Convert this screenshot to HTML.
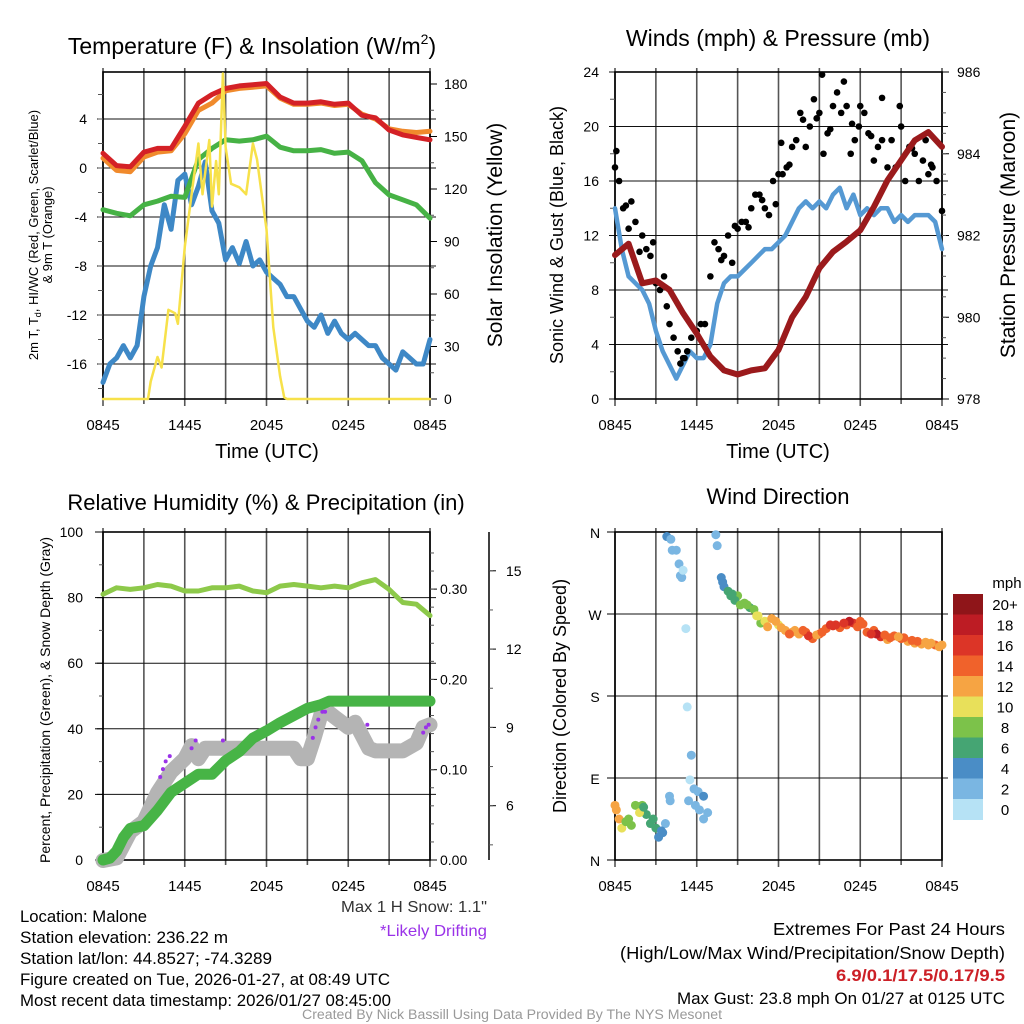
<!DOCTYPE html>
<html><head><meta charset="utf-8">
<style>
html,body{margin:0;padding:0;background:#fff;}
svg{display:block;font-family:"Liberation Sans",sans-serif;}
</style></head>
<body>
<svg id="fig" width="1024" height="1024" viewBox="0 0 1024 1024" xmlns="http://www.w3.org/2000/svg">
<rect x="0" y="0" width="1024" height="1024" fill="#fff"/>
<g id="layer"></g>
</svg>
<script>
// ---------- DATA ----------
const xTickLabels = ["0845","1445","2045","0245","0845"];
const tempHours = [0,1,2,3,4,5,6,7,8,9,10,11,12,13,14,15,16,17,18,19,20,21,22,23,24];
const temp2m = [1.2,0.2,0.1,1.3,1.6,1.6,3.4,5.3,6.0,6.5,6.7,6.8,6.9,5.8,5.3,5.3,5.4,5.2,5.3,4.3,4.1,3.1,2.7,2.5,2.3];
const temp9m = [0.8,-0.2,-0.3,0.9,1.3,1.4,2.8,4.7,5.3,6.3,6.5,6.6,6.7,5.7,5.2,5.2,5.3,5.1,5.2,4.4,4.0,3.2,3.0,2.9,3.0];
const dewpoint = [-3.4,-3.7,-3.9,-3.0,-2.7,-2.3,-2.4,0.7,1.6,2.3,2.2,2.3,2.6,1.7,1.4,1.4,1.5,1.2,1.3,0.6,-1.2,-2.2,-2.6,-3.0,-4.1];
const halfHours = [0,0.5,1,1.5,2,2.5,3,3.5,4,4.5,5,5.5,6,6.5,7,7.5,8,8.5,9,9.5,10,10.5,11,11.5,12,12.5,13,13.5,14,14.5,15,15.5,16,16.5,17,17.5,18,18.5,19,19.5,20,20.5,21,21.5,22,22.5,23,23.5,24];
const windChill = [-17.5,-16,-15.5,-14.5,-15.5,-14.5,-10.5,-8,-6.5,-3,-5,-1,-0.5,-3,-1.5,0.5,-3.5,-4.5,-7.5,-6.5,-7.8,-6,-8,-7.5,-8.5,-9,-9.5,-10.5,-10.5,-11.5,-12.5,-13,-12,-13.5,-12.5,-13.5,-14,-13.5,-14,-14.5,-14.5,-15.5,-16,-16.5,-15,-15.5,-16,-16,-14];
const solarHours = [0,3.3,3.5,4,4.3,4.8,5.3,5.5,6,6.5,7,7.3,7.8,8,8.3,8.5,8.8,9,9.4,10,10.5,11,11.3,11.7,12,12.5,13,13.3,13.5,24];
const solar = [0,0,10,24,18,51,49,43,87,117,146,117,148,110,136,117,186,144,123,121,117,146,137,114,97,41,13,1,0,0];
const tempTicks = [-16,-12,-8,-4,0,4];
const solarTicks = [0,30,60,90,120,150,180];
const pressure = [981.52,981.8,980.83,980.9,980.67,980.1,979.6,979.04,978.7,978.6,978.7,978.75,979.2,980.0,980.5,981.2,981.6,981.85,982.13,982.7,983.35,983.84,984.33,984.53,984.17];
const windSpeed = [14,11,9,8.5,8,7,5,3.5,2.5,1.5,2.5,3.5,3,3,4,7,8.5,9,9,9.5,10,10.5,11,11,11.5,12,13,14,14.5,14,14.5,14,15,15.5,14,15,13.5,14,13.5,14,14,13,13.5,13,13.5,13.5,13.5,13,11];
const gustHours = [0,0.3,0.6,1,1.5,2,2.3,2.6,3,3.3,3.6,4,4.3,4.6,5,5.3,5.6,6,6.3,6.6,7,7.3,7.6,8,8.3,8.6,9,9.3,9.6,10,10.3,10.6,11,11.3,11.6,12,12.3,12.6,13,13.3,13.6,14,14.3,14.6,15,15.3,15.6,16,16.3,16.6,17,17.3,17.6,18,18.3,18.6,19,19.3,19.6,20,20.3,20.6,21,21.3,21.6,22,22.3,22.6,23,23.3,23.6,24,12.2,15.2,16.8,19.6,20.9,0.1,1.2,2.8,5.1,9.8,13.8,17.9,22.8,0.8,1.8,3.8,4.8,7.8,8.8,10.8,11.8,12.8,14.8,15.8,17.4,18.8,21.8,23.2];
const gusts = [17,16,14,12.5,13,12,11,10.5,8.5,8,9,5.5,4.5,3.5,3,3.5,4.5,5,5.5,5.5,9,11.5,11,10.5,12,10,12.5,13,13,14,15,15,14,13.5,16,16.5,16.5,17,18.5,19,21,18.5,20,22,21,18,19.5,21.5,22.5,21,21.5,18,19,21.5,21,19.5,17.5,18.5,19,17,19,17,20,16,18.5,18,16,17.5,16.5,17,16,13.8,18.8,23.8,23.3,22.1,21.5,18.2,14.5,11.5,3,12.6,20.5,20,19,14.2,10.8,6.8,2.6,10.2,12.7,14.6,14.3,17.2,20.6,19.8,20.2,19.3,18.4,17.2];
const windTicks = [0,4,8,12,16,20,24];
const pressTicks = [978,980,982,984,986];
const rh = [81,83,82.5,83,84,83.5,82,82,83,83,83.5,82,81.5,83.5,84,83.5,83,83.5,83,84.5,85.5,82.5,78.5,78,74.5];
const precipHours = [0,0.5,1,1.5,2,3,4,5,6,7,8,9,10,11,12,13,14,15,16,16.6,18,20,22,24];
const precip = [0,0.002,0.01,0.025,0.035,0.038,0.055,0.075,0.085,0.095,0.095,0.11,0.12,0.135,0.143,0.152,0.16,0.168,0.172,0.176,0.176,0.176,0.176,0.176];
const snowHours = [0,1,1.5,2,3,4,5,6,6.5,7,7.5,8,9,10,11,12,13,14,14.5,15,15.5,16,16.5,17,18,18.5,19,19.5,20,21,22,23,23.5,24];
const snowDepth = [3.9,4.0,4.5,5.0,5.4,6.5,7.3,7.8,8.3,7.8,8.2,8.2,8.2,8.2,8.2,8.2,8.2,8.2,7.8,7.8,8.6,9.5,9.6,9.4,9.0,9.2,8.7,8.2,8.1,8.1,8.1,8.4,9.0,9.1];
const driftHours = [4.2,4.4,4.6,4.9,6.5,6.8,8.8,15.4,15.6,15.8,16.1,16.3,19.4,23.5,23.7,23.9];
const driftDepth = [7.1,7.4,7.7,7.9,8.2,8.5,8.5,8.6,9.0,9.3,9.6,9.6,9.1,8.8,9.0,9.1];
const rhTicks = [0,20,40,60,80,100];
const precipTicks = ["0.00","0.10","0.20","0.30"];
const snowTicks = [6,9,12,15];
const dirHours = [0,0.3,0.5,1,1.5,2,2.3,2.6,3,3.2,3.5,3.7,4.0,4.05,3.8,4.1,4.2,4.5,4.7,4.8,4.9,5.0,5.2,5.3,5.6,5.5,5.8,6.1,6.5,6.5,6.8,7.4,7.5,7.8,8.0,8.3,8.5,9,9.5,9.9,10.2,10.7,11,11.5,12,12.5,13,13.5,14,14.5,15,15.5,16,16.5,17,17.5,18,18.5,19,19.5,20,20.5,21,21.5,22,22.5,23,23.5,24,8.8,9.2,10.4,13.2,14.2,16.2,17.2,19.2,21.2,22.2,0.1,0.8,1.2,1.8,2.1,2.8,3.4,5.4,5.9,6.2,7.9,8.6,9.7,10.5,11.2,11.8,12.2,12.8,13.8,14.8,15.2,15.8,16.8,17.8,18.2,18.8,19.8,20.2,20.8,21.8,22.8,23.2,23.8];
const dirDeg = [60,45,35,45,60,60,50,40,35,25,30,40,70,65,355,352,340,340,325,312,310,318,254,168,115,88,78,75,70,45,52,357,345,310,300,295,290,290,282,277,275,260,262,265,258,252,250,248,250,243,248,254,257,255,258,260,262,250,252,245,242,246,243,240,238,237,236,236,236,285,280,268,252,246,258,262,248,244,240,55,42,38,52,58,45,32,65,60,55,305,292,280,268,256,262,255,248,252,247,250,258,260,256,259,248,247,244,245,241,239,238,234];
const dirSpeed = [13,12,10,8,9,8,7,6,6,4,4,3,2,2,4,2,2,2,2,2,3,1,1,1,2,1,2,2,4,2,2,2,2,4,4,6,7,8,8,7,9,8,10,13,10,12,12,13,14,15,14,14,16,15,14,16,15,14,15,17,13,14,14,13,13,12,13,14,12,7,8,10,13,16,16,18,18,14,15,13,9,8,10,7,6,4,2,3,2,4,7,9,10,12,12,13,15,14,13,15,16,17,15,14,16,14,15,13,14,13,12,13];
const speedLabels = ["20+","18","16","14","12","10","8","6","4","2","0"];
const speedColors = ["#8f1519","#bd1c24","#dc3527","#f0622b","#f6a443","#e8e05a","#7cc24a","#45a573","#4a8dc6","#7ab6e2","#b6e2f5"];
const dirLabels = ["N","E","S","W","N"];

// ---------- DRAWING ----------
const NS = "http://www.w3.org/2000/svg";
const layer = document.getElementById("layer");
function el(tag, attrs, parent) {
  const e = document.createElementNS(NS, tag);
  for (const k in attrs) e.setAttribute(k, attrs[k]);
  (parent || layer).appendChild(e);
  return e;
}
function txt(s, x, y, size, anchor, name, extra) {
  const t = el("text", Object.assign({x:x, y:y, "font-size":size, "text-anchor":anchor||"middle", fill:"#000"}, extra||{}));
  t.textContent = s;
  
  
  return t;
}
function poly(pts, stroke, width, name, extra) {
  const p = el("polyline", Object.assign({points: pts.map(p=>p[0].toFixed(1)+","+p[1].toFixed(1)).join(" "), fill:"none", stroke:stroke, "stroke-width":width, "stroke-linejoin":"round", "stroke-linecap":"round"}, extra||{}));
  
  
  return p;
}
function frame(x0, y0, w, h, hLines, name) {
  const g = el("g", {});
  
  
  for (let i = 0; i <= 8; i++) {
    const x = x0 + i * w / 8;
    el("line", {x1:x, y1:y0-4, x2:x, y2:y0+h+(i%2===0?7:5), stroke:"#555", "stroke-width":1.6}, g);
  }
  hLines.forEach(y => el("line", {x1:x0-6, y1:y, x2:x0+w+6, y2:y, stroke:"#111", "stroke-width":1}, g));
  el("rect", {x:x0, y:y0, width:w, height:h, fill:"none", stroke:"#000", "stroke-width":1.6}, g);
  xTickLabels.forEach((s, i) => txt(s, x0 + i * w / 4, y0 + h + 31, 15, "middle", "x-tick-label"));
  return g;
}

// Panel 1: temperature
(function(){
  const x0=103, y0=72, w=327, h=327;
  const X = t => x0 + t / 24 * w;
  const Y = v => 168 - v * 12.25;
  const S = v => 399 - v * 315 / 180;
  frame(x0, y0, w, h, tempTicks.map(Y), "temperature-plot-frame");
  tempTicks.forEach(v => txt(String(v), x0-16, Y(v)+5, 14, "end", "temp-tick-label"));
  for (let v=-18; v<=7; v+=2) el("line",{x1:x0-5,y1:Y(v),x2:x0,y2:Y(v),stroke:"#555","stroke-width":1});
  solarTicks.forEach(v => { txt(String(v), x0+w+14, S(v)+5, 14, "start", "solar-tick-label"); el("line",{x1:x0+w,y1:S(v),x2:x0+w+7,y2:S(v),stroke:"#000","stroke-width":1}); });
  for (let v=15; v<=180; v+=30) el("line",{x1:x0+w,y1:S(v),x2:x0+w+4,y2:S(v),stroke:"#555","stroke-width":1});
  poly(halfHours.map((t,i)=>[X(t),Y(windChill[i])]), "#3e88c6", 5, "wind-chill-line");
  poly(tempHours.map((t,i)=>[X(t),Y(dewpoint[i])]), "#46b245", 5, "dewpoint-line");
  poly(tempHours.map((t,i)=>[X(t),Y(temp9m[i])]), "#f08a2c", 5, "temp-9m-line");
  poly(tempHours.map((t,i)=>[X(t),Y(temp2m[i])]), "#d42126", 5, "temp-2m-line");
  poly(solarHours.map((t,i)=>[X(t),S(solar[i])]), "#f7e14a", 2.5, "solar-insolation-line");
  const tt = txt("Temperature (F) & Insolation (W/m", 252, 54, 23, "middle", "temperature-title");
  const sup = el("tspan", {"font-size":14, dy:-10}, tt); sup.textContent="2";  
  const cl = el("tspan", {"font-size":23, dy:10}, tt); cl.textContent=")";  
  const yt = txt("", 0, 0, 13, "middle", "temp-y-axis-title-line1", {transform:"translate(38,235) rotate(-90)"});
  const a = el("tspan", {}, yt); a.textContent = "2m T, T";  
  const b = el("tspan", {"font-size":9, dy:3}, yt); b.textContent = "d";  
  const c = el("tspan", {dy:-3}, yt); c.textContent = ", HI/WC (Red, Green, Scarlet/Blue)";  
  txt("& 9m T (Orange)", 0, 0, 13, "middle", "temp-y-axis-title-line2", {transform:"translate(52,235) rotate(-90)"});
  txt("Solar Insolation (Yellow)", 0, 0, 21, "middle", "solar-y-axis-title", {transform:"translate(502,235) rotate(-90)"});
  txt("Time (UTC)", 267, 458, 20, "middle", "temp-x-axis-title");
})();

// Panel 2: winds
(function(){
  const x0=615, y0=72, w=327, h=327;
  const X = t => x0 + t / 24 * w;
  const Y = v => 399 - v * h / 24;
  const P = v => 399 - (v - 978) * h / 8;
  frame(x0, y0, w, h, windTicks.map(Y), "winds-plot-frame");
  windTicks.forEach(v => txt(String(v), x0-16, Y(v)+5, 14, "end", "wind-tick-label"));
  for (let v=2; v<24; v+=4) el("line",{x1:x0-5,y1:Y(v),x2:x0,y2:Y(v),stroke:"#555","stroke-width":1});
  pressTicks.forEach(v => { txt(String(v), x0+w+15, P(v)+5, 14, "start", "pressure-tick-label"); el("line",{x1:x0+w,y1:P(v),x2:x0+w+7,y2:P(v),stroke:"#000","stroke-width":1}); });
  for (let v=978.5; v<986; v+=0.5) el("line",{x1:x0+w,y1:P(v),x2:x0+w+4,y2:P(v),stroke:"#555","stroke-width":1});
  poly(halfHours.map((t,i)=>[X(t),Y(windSpeed[i])]), "#5599d3", 4.5, "sonic-wind-line");
  gustHours.forEach((t,i) => { const c = el("circle",{cx:X(t),cy:Y(gusts[i]),r:3.3,fill:"#000"});   });
  poly(tempHours.map((t,i)=>[X(t),P(pressure[i])]), "#9b1a1c", 6, "station-pressure-line");
  txt("Winds (mph) & Pressure (mb)", 778, 46, 23, "middle", "winds-title");
  txt("Sonic Wind & Gust (Blue, Black)", 0, 0, 18, "middle", "wind-y-axis-title", {transform:"translate(563,235) rotate(-90)"});
  txt("Station Pressure (Maroon)", 0, 0, 21, "middle", "pressure-y-axis-title", {transform:"translate(1015,235) rotate(-90)"});
  txt("Time (UTC)", 778, 458, 20, "middle", "winds-x-axis-title");
})();

// Panel 3: RH / precip
(function(){
  const x0=103, y0=532, w=327, h=328;
  const X = t => x0 + t / 24 * w;
  const Y = v => 860 - v * h / 100;
  const Pr = v => 860 - v * 903;
  const Sn = v => 805.7 - (v - 6) * 26.1;
  frame(x0, y0, w, h, [20,40,60,80].map(Y), "rh-plot-frame");
  rhTicks.forEach(v => txt(String(v), x0-20, Y(v)+5, 14, "end", "rh-tick-label"));
  rhTicks.forEach(v => el("line",{x1:x0-8,y1:Y(v),x2:x0,y2:Y(v),stroke:"#000","stroke-width":1}));
  for (let v=10; v<100; v+=20) el("line",{x1:x0-4,y1:Y(v),x2:x0,y2:Y(v),stroke:"#555","stroke-width":1});
  precipTicks.forEach(s => { const v=parseFloat(s); txt(s, x0+w+10, Pr(v)+5, 14, "start", "precip-tick-label"); el("line",{x1:x0+w,y1:Pr(v),x2:x0+w+7,y2:Pr(v),stroke:"#000","stroke-width":1}); });
  for (let v=0.02; v<0.36; v+=0.02) el("line",{x1:x0+w,y1:Pr(v),x2:x0+w+4,y2:Pr(v),stroke:"#555","stroke-width":1});
  const sa = el("line",{x1:489,y1:532,x2:489,y2:860,stroke:"#000","stroke-width":1.5});  
  snowTicks.forEach(v => { txt(String(v), 506, Sn(v)+5, 14, "start", "snow-tick-label"); el("line",{x1:489,y1:Sn(v),x2:496,y2:Sn(v),stroke:"#000","stroke-width":1}); });
  for (let v=4.5; v<16.5; v+=1.5) if (Sn(v) > 532 && Sn(v) < 860) el("line",{x1:489,y1:Sn(v),x2:493,y2:Sn(v),stroke:"#555","stroke-width":1});
  poly(snowHours.map((t,i)=>[X(t),Sn(snowDepth[i])]), "#b4b4b4", 15, "snow-depth-line");
  driftHours.forEach((t,i) => { const c = el("circle",{cx:X(t),cy:Sn(driftDepth[i]),r:2,fill:"#9a32e8"});   });
  poly(precipHours.map((t,i)=>[X(t),Pr(precip[i])]), "#47b446", 11, "precipitation-line");
  poly(tempHours.map((t,i)=>[X(t),Y(rh[i])]), "#8dc94a", 5, "relative-humidity-line");
  txt("Relative Humidity (%) & Precipitation (in)", 266, 510, 22, "middle", "rh-title");
  txt("Percent, Precipitation (Green), & Snow Depth (Gray)", 0, 0, 14, "middle", "rh-y-axis-title", {transform:"translate(50,700) rotate(-90)"});
})();

// Panel 4: wind direction
(function(){
  const x0=615, y0=532, w=327, h=328;
  const X = t => x0 + t / 24 * w;
  const Y = d => 860 - d / 360 * h;
  frame(x0, y0, w, h, [90,180,270].map(Y), "direction-plot-frame");
  dirLabels.forEach((s,i) => { const d=i*90; txt(s, x0-20, Y(d)+6, 14, "middle", "direction-tick-label"); el("line",{x1:x0-8,y1:Y(d),x2:x0,y2:Y(d),stroke:"#000","stroke-width":1}); });
  dirHours.forEach((t,i) => {
    const idx = 10 - Math.min(10, Math.floor(dirSpeed[i] / 2));
    const c = el("circle",{cx:X(t),cy:Y(dirDeg[i]),r:4.5,fill:speedColors[idx]});
    
    
  });
  speedLabels.forEach((s,i) => {
    const r = el("rect",{x:953,y:594+i*20.5,width:30,height:21,fill:speedColors[i]});
    
    
    txt(s, 1005, 594+i*20.5+16, 15, "middle", "colorbar-label");
  });
  txt("mph", 1007, 588, 15, "middle", "colorbar-title");
  txt("Wind Direction", 778, 504, 22, "middle", "direction-title");
  txt("Direction (Colored By Speed)", 0, 0, 18, "middle", "direction-y-axis-title", {transform:"translate(566,696) rotate(-90)"});
})();

// Footer text
const LA = {lengthAdjust:"spacingAndGlyphs"};
const leftInfo = [["Location: Malone",127],["Station elevation: 236.22 m",208],["Station lat/lon: 44.8527; -74.3289",252],["Figure created on Tue, 2026-01-27, at 08:49 UTC",370],["Most recent data timestamp: 2026/01/27 08:45:00",371]];
leftInfo.forEach((p,i) => {
  txt(p[0], 20, 922 + i*21, 16.5, "start", "station-info-line", Object.assign({textLength:p[1]}, LA));
});
txt("Max 1 H Snow: 1.1\"", 487, 912, 16, "end", "max-snow-note", Object.assign({fill:"#333", textLength:146}, LA));
txt("*Likely Drifting", 487, 936, 16, "end", "drifting-note", Object.assign({fill:"#9a32e8", textLength:107}, LA));
txt("Extremes For Past 24 Hours", 1005, 935, 17.5, "end", "extremes-title", Object.assign({textLength:232}, LA));
txt("(High/Low/Max Wind/Precipitation/Snow Depth)", 1005, 959, 17.5, "end", "extremes-legend", Object.assign({textLength:385}, LA));
txt("6.9/0.1/17.5/0.17/9.5", 1005, 981, 17, "end", "extremes-values", Object.assign({fill:"#cc2027", "font-weight":"bold", textLength:169}, LA));
txt("Max Gust: 23.8 mph On 01/27 at 0125 UTC", 1005, 1004, 16.5, "end", "max-gust-note", Object.assign({textLength:328}, LA));
txt("Created By Nick Bassill Using Data Provided By The NYS Mesonet", 512, 1019, 13.5, "middle", "credit-line", Object.assign({fill:"#999", textLength:420}, LA));
</script>
</body></html>
